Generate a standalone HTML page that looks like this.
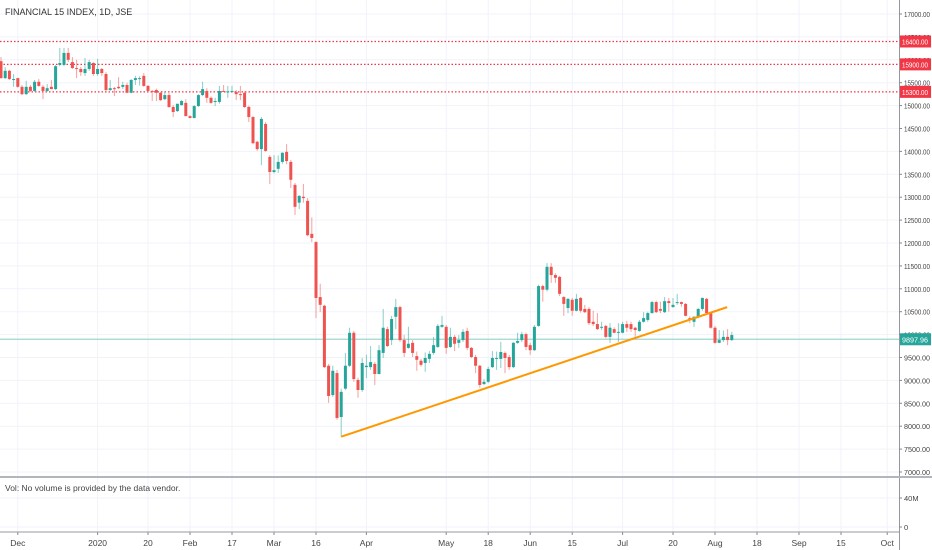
<!DOCTYPE html>
<html><head><meta charset="utf-8">
<style>
html,body{margin:0;padding:0;background:#fff;}
svg{display:block;font-family:"Liberation Sans",sans-serif;}
</style></head>
<body>
<svg id="chart" width="932" height="550" viewBox="0 0 932 550" xmlns="http://www.w3.org/2000/svg">
<rect x="0" y="0" width="932" height="550" fill="#ffffff"/>
<g id="grid"></g>
<g id="levels"></g>
<g id="candles"></g>
<g id="trend"></g>
<g id="axes"></g>
<text x="5" y="15" font-size="9" fill="#333">FINANCIAL 15 INDEX, 1D, JSE</text>
<text x="5" y="491" font-size="8.5" fill="#444">Vol: No volume is provided by the data vendor.</text>
</svg>
<script>
const opens=[15970,15600,15760,15560,15600,15410,15250,15410,15320,15520,15410,15320,15410,15360,15890,15890,16150,15950,15820,15800,15710,15800,15930,15690,15800,15690,15340,15380,15410,15410,15450,15280,15560,15580,15650,15430,15320,15340,15280,15140,15230,14970,14880,15010,15060,14770,14730,14990,15230,15320,15170,15080,15080,15320,15300,15300,15300,15250,15280,14970,14750,14210,14050,14600,13880,13550,13620,13770,13990,13770,13270,12880,13010,12920,12200,12020,10820,10630,9320,8680,9160,8200,8820,9320,10040,9010,8790,9290,9290,9360,9140,9600,10120,9880,10390,10600,9880,9710,9820,9530,9430,9380,9470,9600,9730,10170,10170,9730,9950,9820,9880,10080,9710,9510,9320,8920,8970,9290,9470,9470,9600,9510,9290,9820,9880,10010,9770,9660,10190,11060,10980,11480,11300,11260,10820,10580,10760,10520,10800,10560,10560,10280,10230,10150,10190,9950,10120,10040,10040,10230,10230,10150,10080,10280,10320,10470,10710,10560,10490,10730,10600,10690,10710,10670,10360,10280,10390,10560,10780,10470,10150,9820,9880,9950,9880];
const highs=[16060,15840,15780,15690,15610,15450,15540,15450,15560,15580,15450,15470,15560,15890,16260,16260,16260,16060,16000,15840,16040,16000,15950,16020,15820,15730,15560,15410,15620,15520,15500,15580,15650,15640,15710,15450,15340,15370,15300,15300,15270,15010,15040,15120,15140,14790,15010,15250,15520,15380,15200,15170,15430,15450,15430,15430,15340,15430,15310,15000,14770,14230,14750,14640,13920,13920,13910,13980,14160,13810,13310,13040,13290,12980,12560,12040,11110,10650,9360,9320,9230,8820,9600,10150,10080,9060,9490,9560,9750,9400,9770,10560,10170,10410,10780,10630,9990,10170,9880,9630,9470,9610,9640,9950,10230,10410,10210,10150,9990,9990,10120,10150,9730,9560,9340,9030,9300,9640,9630,9840,9630,9560,9840,10040,10060,10040,9820,10210,11090,11090,11560,11560,11340,11280,10840,10800,10800,10890,10820,10650,10600,10520,10470,10280,10210,10250,10160,10250,10280,10300,10280,10170,10320,10490,10500,10740,10740,10720,10820,10800,10800,10890,10720,10690,10400,10400,10580,10810,10800,10480,10190,10100,10090,10120,10060];
const lows=[15590,15580,15560,15410,15390,15230,15230,15300,15300,15410,15140,15300,15360,15340,15860,15860,15950,15800,15600,15650,15650,15760,15650,15650,15650,15280,15320,15210,15360,15360,15270,15270,15450,15440,15410,15300,15100,15100,15100,15120,14950,14750,14860,15000,14770,14720,14720,14970,15210,15060,15040,14990,15040,15300,15170,15280,15120,15120,14950,14640,14160,14010,13700,13990,13290,13520,13530,13730,13720,13200,12610,12740,12880,12150,12020,10360,10490,9270,8510,8640,8140,7770,8790,9290,8970,8620,8750,9050,9230,8900,9130,9490,9730,9770,10120,9840,9510,9690,9510,9210,9300,9190,9380,9560,9710,10150,9580,9710,9640,9710,9840,9660,9490,9160,8840,8900,8940,9270,9230,9270,9160,9230,9270,9800,9840,9660,9560,9640,10170,10720,10940,11130,11130,10840,10410,10470,10410,10510,10480,10470,10210,10190,10100,10100,9920,9820,10030,9840,10030,10060,10060,9950,10060,10260,10280,10460,10470,10470,10470,10500,10590,10650,10610,10400,10250,10170,10360,10520,10430,10130,9800,9810,9840,9770,9860];
const closes=[15600,15760,15580,15580,15410,15250,15410,15320,15520,15430,15320,15380,15360,15860,15930,16150,16000,15820,15800,15730,15800,15950,15690,15800,15710,15340,15380,15360,15380,15450,15280,15560,15600,15600,15430,15320,15300,15280,15120,15230,14970,14860,15040,15100,14770,14730,14990,15230,15360,15170,15060,15100,15320,15300,15310,15320,15250,15230,14970,14750,14180,14050,14710,14010,13550,13590,13770,13970,13790,13380,12790,13030,12980,12170,12110,10800,10650,9290,8660,9210,8180,8750,9320,10040,9030,8790,9380,9320,9400,9140,9660,10150,9750,10340,10600,9880,9600,9800,9600,9450,9340,9490,9580,9770,10190,10210,9710,9950,9800,9880,10060,9710,9510,9320,8900,8970,9250,9490,9490,9620,9490,9290,9820,9860,10010,9730,9660,10170,11060,10980,11480,11300,11240,10890,10670,10780,10520,10780,10520,10490,10250,10230,10120,10170,9950,10150,10040,10060,10230,10150,10120,10100,10280,10360,10470,10710,10490,10520,10730,10690,10650,10710,10670,10410,10320,10390,10560,10800,10470,10150,9820,9880,9950,9880,9990];
const yTicks=[7000,7500,8000,8500,9000,9500,10000,10500,11000,11500,12000,12500,13000,13500,14000,14500,15000,15500,16000,16500,17000];
const xLabels=["Dec","2020","20","Feb","17","Mar","16","Apr","May","18","Jun","15","Jul","20","Aug","18","Sep","15","Oct"];
const xLabelIdx=[4,23,35,45,55,65,75,87,106,116,126,136,148,160,170,180,190,200,211];
const levelValues=[16400,15900,15300];
const lastPrice=9897.96;
const trendIdx=[81,172.9];
const trendVals=[7770,10600];

const NS="http://www.w3.org/2000/svg";
const X0=1,DX=4.2;
function xs(i){return X0+i*DX;}
function ys(v){return 14+(17000-v)*0.0458;}
function mk(tag,attrs,parent){const e=document.createElementNS(NS,tag);for(const k in attrs)e.setAttribute(k,attrs[k]);parent.appendChild(e);return e;}
const grid=document.getElementById('grid'),levels=document.getElementById('levels'),cg=document.getElementById('candles'),tg=document.getElementById('trend'),ax=document.getElementById('axes');
const PR=899;
yTicks.forEach(v=>{const l=mk('line',{x1:0,x2:PR,y1:ys(v),y2:ys(v),stroke:'#f0f3fa','stroke-width':1},grid);

});
[498,527].forEach(y=>{const l=mk('line',{x1:0,x2:PR,y1:y,y2:y,stroke:'#f0f3fa','stroke-width':1},grid);

});
xLabelIdx.forEach((i,k)=>{const x=xs(i);const l=mk('line',{x1:x,x2:x,y1:0,y2:532,stroke:'#f0f3fa','stroke-width':1},grid);


const t=mk('text',{x:x,y:546,'font-size':8.5,fill:'#444','text-anchor':'middle'},ax);t.textContent=xLabels[k];


const tk=mk('line',{x1:x,x2:x,y1:532,y2:535,stroke:'#888'},ax);

});
levelValues.forEach(v=>{const l=mk('line',{x1:0,x2:PR,y1:ys(v),y2:ys(v),stroke:'#f23645','stroke-width':1.2,'stroke-dasharray':'1.5,2'},levels);

});
const pl=mk('line',{x1:0,x2:PR,y1:ys(lastPrice),y2:ys(lastPrice),stroke:'#9ed6cf','stroke-width':1.2},levels);


for(let i=0;i<opens.length;i++){const o=opens[i],c=closes[i],h=highs[i],lo=lows[i];const up=c>=o;const col=up?'#26a69a':'#ef5350';const x=xs(i);
const w=mk('line',{x1:x,x2:x,y1:ys(h),y2:ys(lo),stroke:col,'stroke-width':1,'stroke-opacity':0.55},cg);


const top=ys(Math.max(o,c)),bh=Math.max(1,Math.abs(ys(o)-ys(c)));
const b=mk('rect',{x:x-1.5,y:top,width:3,height:bh,fill:col},cg);

}
const tl=mk('line',{x1:xs(trendIdx[0]),y1:ys(trendVals[0]),x2:xs(trendIdx[1]),y2:ys(trendVals[1]),stroke:'#ff9800','stroke-width':2},tg);


const a1=mk('line',{x1:PR+0.5,x2:PR+0.5,y1:0,y2:550,stroke:'#9598a1','stroke-width':1},ax);


const a2=mk('line',{x1:0,x2:932,y1:477,y2:477,stroke:'#b2b5be','stroke-width':2},ax);


const a3=mk('line',{x1:0,x2:PR,y1:532,y2:532,stroke:'#9598a1','stroke-width':1},ax);


yTicks.forEach(v=>{const y=ys(v);const tk=mk('line',{x1:PR,x2:PR+3,y1:y,y2:y,stroke:'#888'},ax);


const t=mk('text',{x:PR+5,y:y+3,'font-size':7.5,fill:'#444',textLength:26,lengthAdjust:'spacingAndGlyphs'},ax);t.textContent=v.toFixed(2);

});
[['40M',498],['0',527]].forEach(p=>{const tk=mk('line',{x1:PR,x2:PR+3,y1:p[1],y2:p[1],stroke:'#888'},ax);


const t=mk('text',{x:PR+5,y:p[1]+3,'font-size':7.5,fill:'#444'},ax);t.textContent=p[0];

});
function badge(v,col,txt,name){const y=ys(v);const r=mk('rect',{x:PR+1,y:y-6,width:31,height:12,fill:col},ax);


const t=mk('text',{x:PR+3,y:y+3,'font-size':7.5,fill:'#fff',textLength:26,lengthAdjust:'spacingAndGlyphs'},ax);t.textContent=txt;

}
levelValues.forEach(v=>badge(v,'#f23645',v.toFixed(2),'level-badge'));
badge(lastPrice,'#26a69a',lastPrice.toFixed(2),'last-price-badge');
</script>
</body></html>
